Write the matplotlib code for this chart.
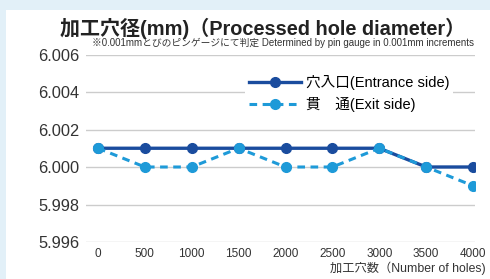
import matplotlib.pyplot as plt
from matplotlib.patches import Rectangle

plt.rcParams['font.family'] = ['Liberation Sans', 'Noto Sans CJK JP']

holes = [0, 500, 1000, 1500, 2000, 2500, 3000, 3500, 4000]
entrance = [6.001, 6.001, 6.001, 6.001, 6.001, 6.001, 6.001, 6.000, 6.000]
exit_side = [6.001, 6.000, 6.000, 6.001, 6.000, 6.000, 6.001, 6.000, 5.999]
yticks = [5.996, 5.998, 6.000, 6.002, 6.004, 6.006]

W, H = 490, 279
fig = plt.figure(figsize=(4.9, 2.79), dpi=100)
fig.patch.set_facecolor('#e2f0f8')
fig.patches.append(Rectangle((6 / W, 0), 1, 1 - 10 / H, transform=fig.transFigure,
                             facecolor='white', edgecolor='none', zorder=-5))

ax = fig.add_axes([86 / W, 1 - 242 / H, 389 / W, 187.5 / H])
ax.set_facecolor('none')
ax.set_zorder(2)

ax.plot(holes, entrance, color='#1a4c9e', lw=2.4, marker='o', ms=7, label='穴入口(Entrance side)', zorder=3)
ax.plot(holes, exit_side, color='#1e9ad8', lw=2.2, ls=(0, (2.5, 1.8)), marker='o', ms=7,
        label='貫　通(Exit side)', zorder=4)

ax.set_xlim(-128, 4021)
ax.set_ylim(5.996, 6.006)
ax.set_yticks(yticks)
ax.set_yticklabels([f'{v:.3f}' for v in yticks], fontsize=11.8, color='#333333')
ax.set_xticks(holes)
ax.set_xticklabels([str(h) for h in holes], fontsize=8.5, color='#333333')
ax.tick_params(length=0)
ax.tick_params(axis='y', pad=5)
ax.tick_params(axis='x', pad=4.5)
ax.grid(axis='y', color='#cccccc', lw=1)
for s in ax.spines.values():
    s.set_visible(False)

leg = ax.legend(loc='upper left', bbox_to_anchor=(152 / 389, 0.95), fontsize=10.5, frameon=True,
                fancybox=False, edgecolor='none', framealpha=1, handlelength=3.6,
                handletextpad=0.28, borderpad=0.25, labelspacing=0.45)
leg.set_zorder(5)

fig.text(0.535, 1 - 28 / H, '加工穴径(mm)（Processed hole diameter）', ha='center', va='center',
         fontsize=14.4, fontweight='bold', color='#222222')
fig.text(92 / W, 1 - 43 / H, '※0.001mmとびのピンゲージにて判定 Determined by pin gauge in 0.001mm increments',
         ha='left', va='center', fontsize=7, color='#333333')
fig.text(486 / W, 1 - 268.5 / H, '加工穴数（Number of holes)', ha='right', va='center',
         fontsize=8.8, color='#333333')

fig.savefig('out.png', dpi=100)
